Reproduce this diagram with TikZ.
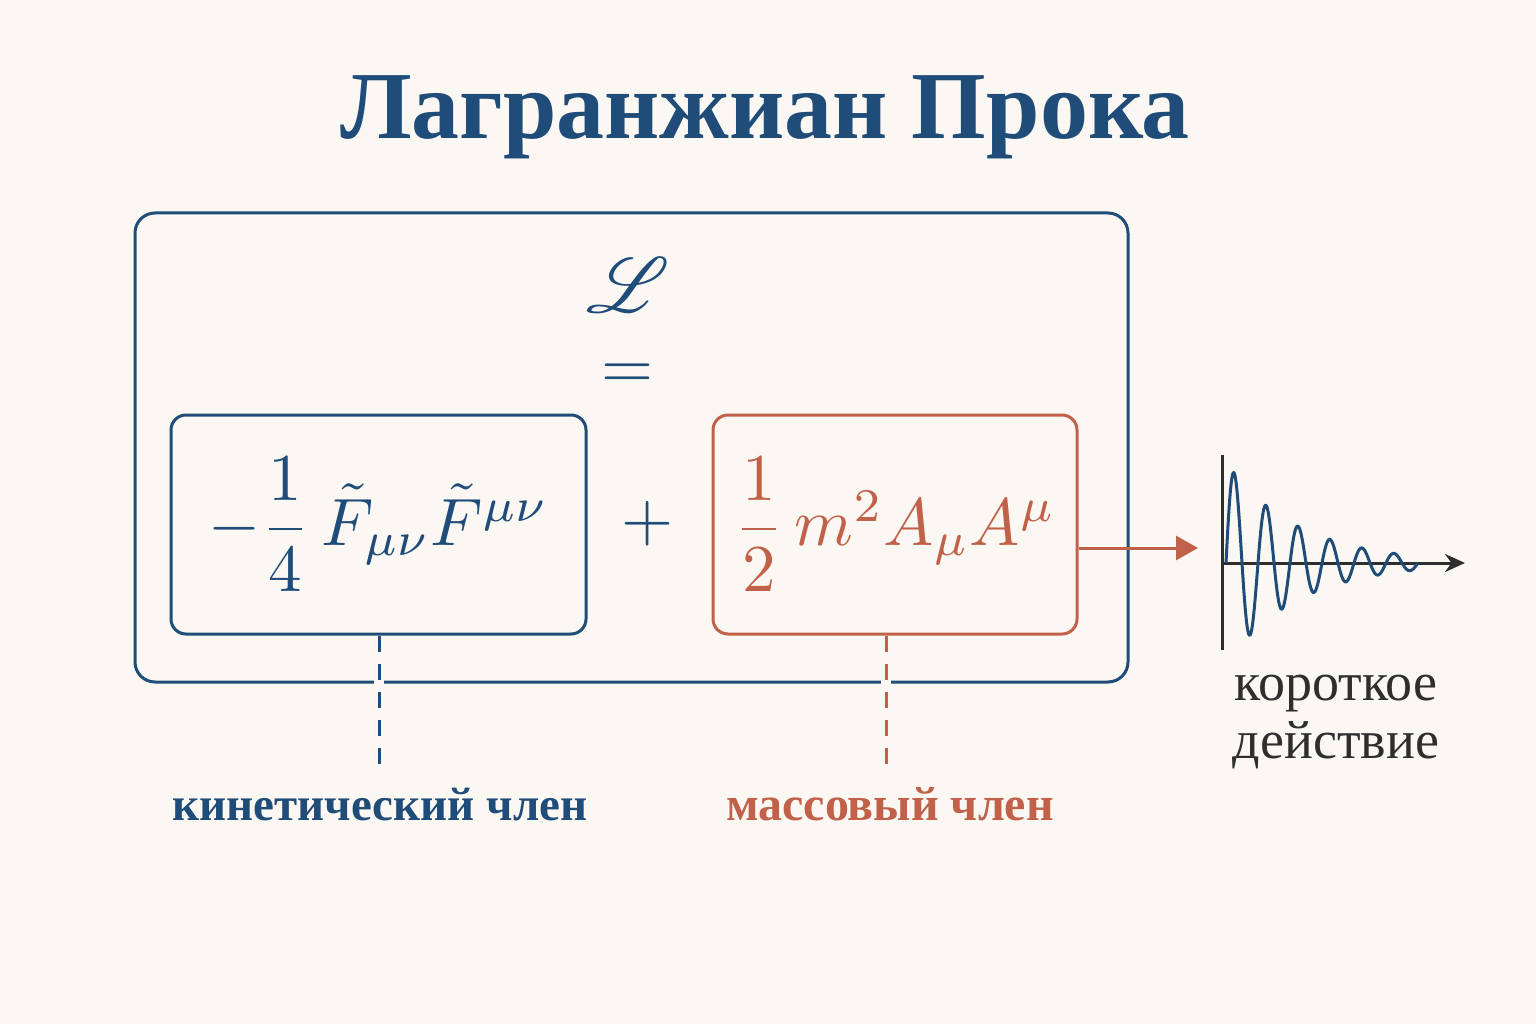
\documentclass[tikz,border=0pt]{standalone}
\usepackage{amsmath}
\usepackage{mathrsfs}
\usepackage{graphicx}
\usepackage{fontspec}
\setmainfont{Liberation Serif}
\usetikzlibrary{arrows.meta}
\definecolor{bg}{HTML}{FBF8F3}
\definecolor{pblue}{HTML}{1F4C78}
\definecolor{pred}{HTML}{C2614A}
\definecolor{pdark}{HTML}{2E2E2E}
\newcommand{\mybigmath}[1]{\scalebox{6.7}{#1}}
\tikzset{
  outerbox/.style={draw=pblue, line width=3pt, rounded corners=20pt, inner sep=0pt},
  kinbox/.style={draw=pblue, line width=3pt, rounded corners=15pt, inner sep=0pt, text=pblue},
  massbox/.style={draw=pred, line width=3pt, rounded corners=15pt, inner sep=0pt, text=pred},
  dashlink/.style={line width=3pt, dash pattern=on 16pt off 12pt},
  lbl/.style={font=\fontsize{47}{52}\selectfont\bfseries, anchor=base},
}
\begin{document}
\begin{tikzpicture}[x=1pt,y=-1pt]
\fill[bg] (0,0) rectangle (1536,1024);
\useasboundingbox (0,0) rectangle (1536,1024);
% title
\node[anchor=base, text=pblue, font=\fontsize{96}{106}\selectfont\bfseries] (title) at (765,139) {Лагранжиан Прока};
% outer box
\node[outerbox, minimum width=993pt, minimum height=469pt] (outer) at (631.5,447.5) {};
% L and =
\node[text=pblue] (L) at (628,285) {\scalebox{7.8}{$\mathscr{L}$}};
\node[text=pblue] (eq) at (628,376) {\mybigmath{$=$}};
% boxes
\node[kinbox, minimum width=415pt, minimum height=219pt] (kin) at (378.5,524.5)
  {\mybigmath{$-\dfrac{1}{4}\,\tilde{F}_{\mu\nu}\tilde{F}^{\mu\nu}$}};
\node[text=pblue] (plus) at (648,524) {\mybigmath{$+$}};
\node[massbox, minimum width=364pt, minimum height=219pt] (mass) at (895,524.5)
  {\mybigmath{$\dfrac{1}{2}\,m^2A_\mu A^\mu$}};
% dashed links
\coordinate (kinend) at (379,765);
\coordinate (massend) at (886,765);
\draw[bg, line width=10pt] (379,674) -- (379,690);
\draw[bg, line width=10pt] (886,674) -- (886,690);
\draw[pblue, dashlink] (kinend |- kin.south) -- (kinend);
\draw[pred, dashlink] (massend |- mass.south) -- (massend);
% labels
\node[lbl, text=pblue] (kinlbl) at (380,820) {кинетический член};
\node[lbl, text=pred, font=\fontsize{48}{52}\selectfont\bfseries] (masslbl) at (890,820) {массовый член};
% arrow to plot
\coordinate (plotin) at (1198,548);
\draw[pred, line width=3pt, -{Triangle[length=22pt,width=24pt]}] ([yshift=-23.5pt]mass.east) -- (plotin);
% plot
\coordinate (yaxtop) at (1222,455);
\coordinate (yaxbot) at (1222,650);
\coordinate (xaxend) at (1465,563);
\draw[pdark, line width=3pt] (yaxtop) -- (yaxbot);
\draw[pdark, line width=3pt, -{Stealth[length=20pt,width=18pt]}] (1222,563) -- (xaxend);
\draw[pblue, line width=3pt, line join=round]
  plot[domain=0:192, samples=300] ({1226+\x}, {563 - 101*exp(-0.014*\x)*sin(11.25*\x)});
% short range text
\node[anchor=base, text=pdark, font=\fontsize{54}{60}\selectfont] (short1) at (1336,700) {короткое};
\node[anchor=base, text=pdark, font=\fontsize{54}{60}\selectfont] (short2) at (1336,758) {действие};
\end{tikzpicture}
\end{document}
